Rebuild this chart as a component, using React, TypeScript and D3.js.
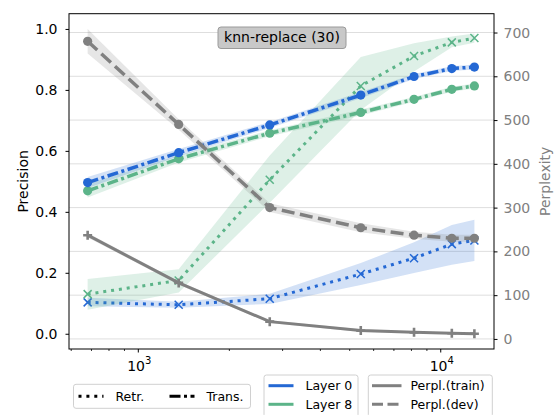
import * as d3 from 'd3';
import { useEffect, useRef } from 'react';

// datastore sizes (x, log scale)
const sizes = [680, 1360, 2720, 5440, 8160, 10880, 12920];

// precision, transformation ("Trans.") and retrieval ("Retr.") per layer
const transL0 = [0.496, 0.594, 0.685, 0.783, 0.844, 0.87, 0.875];
const transL0Lo = [0.478, 0.582, 0.675, 0.773, 0.836, 0.862, 0.867];
const transL0Hi = [0.514, 0.606, 0.695, 0.793, 0.852, 0.878, 0.883];
const transL8 = [0.469, 0.574, 0.658, 0.726, 0.769, 0.802, 0.813];
const transL8Lo = [0.447, 0.562, 0.648, 0.716, 0.761, 0.794, 0.805];
const transL8Hi = [0.491, 0.586, 0.668, 0.736, 0.777, 0.81, 0.821];
const retrL0 = [0.103, 0.095, 0.115, 0.196, 0.248, 0.294, 0.306];
const retrL0Lo = [0.09, 0.085, 0.098, 0.16, 0.199, 0.226, 0.239];
const retrL0Hi = [0.118, 0.105, 0.131, 0.232, 0.3, 0.357, 0.374];
const retrL8 = [0.13, 0.175, 0.505, 0.813, 0.911, 0.956, 0.97];
const retrL8Lo = [0.079, 0.135, 0.43, 0.734, 0.86, 0.94, 0.955];
const retrL8Hi = [0.18, 0.212, 0.585, 0.908, 0.953, 0.975, 0.985];

// perplexity
const perplTrain = [237, 128, 39.5, 19, 15, 13, 12];
const perplTrainErr = [5, 4, 3, 3, 2, 2, 2];
const perplDev = [680, 490, 300, 254, 237, 230, 230];
const perplDevErr = [28, 12, 10, 10, 8, 8, 8];

const precisionTicks = [0, 0.2, 0.4, 0.6, 0.8, 1.0];
const perplTicks = [0, 100, 200, 300, 400, 500, 600, 700];
const xMajor = [1000, 10000];
const xMinor = [600, 700, 800, 900, 2000, 3000, 4000, 5000, 6000, 7000, 8000, 9000];

const BLUE = '#2468d4';
const GREEN = '#5cb489';
const GRAY = '#808080';
const FONT = 'DejaVu Sans, sans-serif';

function App() {
  const chartRef = useRef<SVGSVGElement>(null);

  useEffect(() => {
    const W = 555;
    const H = 415;
    const margin = { top: 13.7, right: 61, bottom: 66, left: 69 };
    const svg = d3.select(chartRef.current);
    svg.selectAll('*').remove();

    const x = d3.scaleLog().domain([590, 15000]).range([margin.left, W - margin.right]);
    const yP = d3.scaleLinear().domain([-0.05, 1.05]).range([H - margin.bottom, margin.top]);
    const yR = d3.scaleLinear().domain([-23, 743]).range([H - margin.bottom, margin.top]);
    const x0 = margin.left;
    const x1 = W - margin.right;
    const yTop = margin.top;
    const yBot = H - margin.bottom;

    // grid (from the perplexity axis)
    svg
      .append('g')
      .selectAll('line')
      .data(perplTicks)
      .enter()
      .append('line')
      .attr('x1', x0)
      .attr('x2', x1)
      .attr('y1', (d) => yR(d))
      .attr('y2', (d) => yR(d))
      .attr('stroke', '#dedede')
      .attr('stroke-width', 1);

    const drawSeries = (
      vals: number[],
      lo: number[],
      hi: number[],
      y: d3.ScaleLinear<number, number>,
      color: string,
      dash: string,
      width: number,
      marker: string
    ) => {
      const idx = d3.range(sizes.length);
      const area = d3
        .area<number>()
        .x((i) => x(sizes[i]))
        .y0((i) => y(lo[i]))
        .y1((i) => y(hi[i]));
      svg
        .append('path')
        .attr('d', area(idx))
        .attr('fill', color)
        .attr('fill-opacity', 0.2);
      const line = d3
        .line<number>()
        .x((i) => x(sizes[i]))
        .y((i) => y(vals[i]));
      svg
        .append('path')
        .attr('d', line(idx))
        .attr('fill', 'none')
        .attr('stroke', color)
        .attr('stroke-width', width)
        .attr('stroke-dasharray', dash);
      const g = svg.append('g');
      idx.forEach((i) => {
        const cx = x(sizes[i]);
        const cy = y(vals[i]);
        if (marker === 'o') {
          g.append('circle').attr('cx', cx).attr('cy', cy).attr('r', 4.6).attr('fill', color);
        } else if (marker === 'x') {
          g.append('path')
            .attr('d', `M${cx - 4},${cy - 4}L${cx + 4},${cy + 4}M${cx - 4},${cy + 4}L${cx + 4},${cy - 4}`)
            .attr('stroke', color)
            .attr('stroke-width', 1.5);
        } else {
          g.append('path')
            .attr('d', `M${cx - 4.5},${cy}H${cx + 4.5}M${cx},${cy - 4.5}V${cy + 4.5}`)
            .attr('stroke', color)
            .attr('stroke-width', 2.6);
        }
      });
    };

    const dashDot = '11,3.5,3,3.5';
    const dotted = '3,4.9';

    drawSeries(retrL0, retrL0Lo, retrL0Hi, yP, BLUE, dotted, 3, 'x');
    drawSeries(retrL8, retrL8Lo, retrL8Hi, yP, GREEN, dotted, 3, 'x');
    drawSeries(transL8, transL8Lo, transL8Hi, yP, GREEN, dashDot, 3.5, 'o');
    drawSeries(transL0, transL0Lo, transL0Hi, yP, BLUE, dashDot, 3.5, 'o');
    drawSeries(
      perplDev,
      perplDev.map((v, i) => v - perplDevErr[i]),
      perplDev.map((v, i) => v + perplDevErr[i]),
      yR,
      GRAY,
      '13,5.5',
      3.5,
      'o'
    );
    drawSeries(
      perplTrain,
      perplTrain.map((v, i) => v - perplTrainErr[i]),
      perplTrain.map((v, i) => v + perplTrainErr[i]),
      yR,
      GRAY,
      'none',
      3,
      '+'
    );

    // spines
    svg
      .append('rect')
      .attr('x', x0)
      .attr('y', yTop)
      .attr('width', x1 - x0)
      .attr('height', yBot - yTop)
      .attr('fill', 'none')
      .attr('stroke', '#000')
      .attr('stroke-width', 1);

    // left axis
    const left = svg
      .append('g')
      .attr('transform', `translate(${x0},0)`)
      .call(
        d3
          .axisLeft(yP)
          .tickValues(precisionTicks)
          .tickFormat(d3.format('.1f'))
          .tickSize(3.5)
          .tickPadding(8)
      );
    left.select('.domain').remove();
    left.selectAll('line').attr('stroke', '#000');
    left.selectAll('text').attr('font-size', 14).attr('font-family', FONT).attr('fill', '#000');

    // right axis
    const right = svg
      .append('g')
      .attr('transform', `translate(${x1},0)`)
      .call(d3.axisRight(yR).tickValues(perplTicks).tickSize(3.5).tickPadding(6));
    right.select('.domain').remove();
    right.selectAll('line').attr('stroke', '#000');
    right.selectAll('text').attr('font-size', 14).attr('font-family', FONT).attr('fill', GRAY);

    // x axis ticks
    const xg = svg.append('g');
    xMinor.forEach((v) => {
      xg.append('line')
        .attr('x1', x(v))
        .attr('x2', x(v))
        .attr('y1', yBot)
        .attr('y2', yBot + 2)
        .attr('stroke', '#000')
        .attr('stroke-width', 0.8);
    });
    xMajor.forEach((v) => {
      xg.append('line')
        .attr('x1', x(v))
        .attr('x2', x(v))
        .attr('y1', yBot)
        .attr('y2', yBot + 3.5)
        .attr('stroke', '#000');
      const t = xg
        .append('text')
        .attr('x', x(v) + 1)
        .attr('y', 370.5)
        .attr('text-anchor', 'middle')
        .attr('font-size', 14)
        .attr('font-family', FONT);
      t.append('tspan').text('10');
      t.append('tspan')
        .attr('font-size', 10)
        .attr('dy', -6.5)
        .text(String(Math.round(Math.log10(v))));
    });

    // axis labels
    svg
      .append('text')
      .attr('transform', `translate(27.5,${(yTop + yBot) / 2}) rotate(-90)`)
      .attr('text-anchor', 'middle')
      .attr('font-size', 14)
      .attr('font-family', FONT)
      .text('Precision');
    svg
      .append('text')
      .attr('transform', `translate(550,${(yTop + yBot) / 2}) rotate(-90)`)
      .attr('text-anchor', 'middle')
      .attr('font-size', 14)
      .attr('font-family', FONT)
      .attr('fill', GRAY)
      .text('Perplexity');

    // title box
    svg
      .append('rect')
      .attr('x', 218)
      .attr('y', 27)
      .attr('width', 128)
      .attr('height', 21.5)
      .attr('rx', 3)
      .attr('fill', '#c8c8c8')
      .attr('stroke', '#9a9a9a');
    svg
      .append('text')
      .attr('x', 282)
      .attr('y', 42.3)
      .attr('text-anchor', 'middle')
      .attr('font-size', 14)
      .attr('font-family', FONT)
      .text('knn-replace (30)');

    // legends
    const legendBox = (bx: number, by: number, bw: number, bh: number) =>
      svg
        .append('rect')
        .attr('x', bx)
        .attr('y', by)
        .attr('width', bw)
        .attr('height', bh)
        .attr('rx', 2.5)
        .attr('fill', '#fff')
        .attr('stroke', '#d0d0d0');
    const legendItem = (lx: number, ly: number, color: string, dash: string, label: string) => {
      svg
        .append('line')
        .attr('x1', lx)
        .attr('x2', lx + 25)
        .attr('y1', ly)
        .attr('y2', ly)
        .attr('stroke', color)
        .attr('stroke-width', 3)
        .attr('stroke-dasharray', dash);
      svg
        .append('text')
        .attr('x', lx + 37)
        .attr('y', ly + 4.5)
        .attr('font-size', 12.5)
        .attr('font-family', FONT)
        .text(label);
    };

    legendBox(73.5, 384.3, 177, 24);
    legendItem(78.5, 396.3, '#000', dotted, 'Retr.');
    legendItem(169.5, 396.3, '#000', dashDot, 'Trans.');

    legendBox(264, 375, 94, 42);
    legendItem(268.5, 385.7, BLUE, 'none', 'Layer 0');
    legendItem(268.5, 404.3, GREEN, 'none', 'Layer 8');

    legendBox(368.3, 375, 124, 42);
    svg.selectAll('.none').remove();
    const l3 = [
      { dash: 'none', label: 'Perpl.(train)', y: 385.7 },
      { dash: '11,4.5', label: 'Perpl.(dev)', y: 404.3 },
    ];
    l3.forEach((d) => {
      svg
        .append('line')
        .attr('x1', 372)
        .attr('x2', 401.5)
        .attr('y1', d.y)
        .attr('y2', d.y)
        .attr('stroke', GRAY)
        .attr('stroke-width', 3)
        .attr('stroke-dasharray', d.dash);
      svg
        .append('text')
        .attr('x', 410.5)
        .attr('y', d.y + 4.5)
        .attr('font-size', 12.5)
        .attr('font-family', FONT)
        .text(d.label);
    });
  }, []);

  return (
    <div style={{ position: 'absolute', left: 0, top: 0 }}>
      <svg ref={chartRef} width={555} height={415} style={{ display: 'block' }} />
    </div>
  );
}

export default App;
